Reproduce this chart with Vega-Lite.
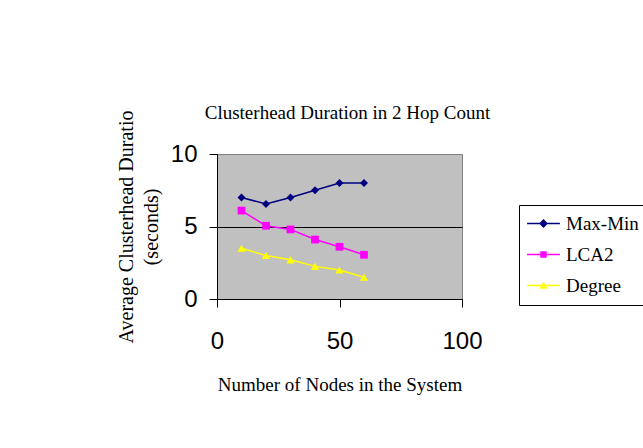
{
  "$schema": "https://vega.github.io/schema/vega-lite/v6.json",
  "width": 245,
  "height": 145,
  "autosize": {"type": "none"},
  "padding": {"left": 217, "top": 154, "right": 181, "bottom": 149},
  "background": "white",
  "title": {
    "text": "Clusterhead Duration in 2 Hop Count",
    "font": "Liberation Serif",
    "fontSize": 19,
    "fontWeight": "normal",
    "color": "black",
    "offset": -13,
    "dx": 8
  },
  "data": {
    "values": [
      {"nodes": 10, "duration": 7.0, "series": "Max-Min"},
      {"nodes": 20, "duration": 6.55, "series": "Max-Min"},
      {"nodes": 30, "duration": 7.0, "series": "Max-Min"},
      {"nodes": 40, "duration": 7.5, "series": "Max-Min"},
      {"nodes": 50, "duration": 8.0, "series": "Max-Min"},
      {"nodes": 60, "duration": 8.0, "series": "Max-Min"},
      {"nodes": 10, "duration": 6.1, "series": "LCA2"},
      {"nodes": 20, "duration": 5.05, "series": "LCA2"},
      {"nodes": 30, "duration": 4.8, "series": "LCA2"},
      {"nodes": 40, "duration": 4.1, "series": "LCA2"},
      {"nodes": 50, "duration": 3.6, "series": "LCA2"},
      {"nodes": 60, "duration": 3.05, "series": "LCA2"},
      {"nodes": 10, "duration": 3.5, "series": "Degree"},
      {"nodes": 20, "duration": 3.0, "series": "Degree"},
      {"nodes": 30, "duration": 2.7, "series": "Degree"},
      {"nodes": 40, "duration": 2.25, "series": "Degree"},
      {"nodes": 50, "duration": 2.0, "series": "Degree"},
      {"nodes": 60, "duration": 1.5, "series": "Degree"}
    ]
  },
  "encoding": {
    "x": {
      "field": "nodes",
      "type": "quantitative",
      "scale": {"domain": [0, 100], "nice": false},
      "axis": {
        "title": "Number of Nodes in the System",
        "values": [0, 50, 100],
        "grid": false,
        "labelFont": "Liberation Sans",
        "labelFontSize": 24,
        "labelColor": "black",
        "labelPadding": 22,
        "labelFlush": false,
        "tickSize": 8,
        "tickColor": "black",
        "domainColor": "black",
        "titleFont": "Liberation Serif",
        "titleFontSize": 19,
        "titleFontWeight": "normal",
        "titleColor": "black",
        "titlePadding": 22
      }
    },
    "y": {
      "field": "duration",
      "type": "quantitative",
      "scale": {"domain": [0, 10], "nice": false},
      "axis": {
        "title": ["Average Clusterhead Duratio", "(seconds)"],
        "values": [0, 5, 10],
        "grid": true,
        "gridColor": {"condition": {"test": "datum.value === 5", "value": "black"}, "value": "#808080"},
        "gridOpacity": 1,
        "labelFont": "Liberation Sans",
        "labelFontSize": 24,
        "labelColor": "black",
        "labelPadding": 12,
        "tickSize": 8,
        "tickColor": "black",
        "domainColor": "black",
        "titleFont": "Liberation Serif",
        "titleFontSize": 20,
        "titleFontWeight": "normal",
        "titleColor": "black",
        "titlePadding": 9,
        "titleLineHeight": 25
      }
    }
  },
  "layer": [
    {
      "transform": [{"filter": "datum.series === 'Max-Min'"}],
      "mark": {"type": "line", "color": "#000080", "strokeWidth": 1.5, "point": {"shape": "diamond", "size": 64, "filled": true, "opacity": 1, "color": "#000080"}}
    },
    {
      "transform": [{"filter": "datum.series === 'LCA2'"}],
      "mark": {"type": "line", "color": "#FF00FF", "strokeWidth": 1.5, "point": {"shape": "square", "size": 60, "filled": true, "opacity": 1, "color": "#FF00FF"}}
    },
    {
      "transform": [{"filter": "datum.series === 'Degree'"}],
      "mark": {"type": "line", "color": "#FFFF00", "strokeWidth": 1.5, "point": {"shape": "triangle-up", "size": 70, "filled": true, "opacity": 1, "color": "#FFFF00"}}
    },
    {
      "mark": {"type": "point", "filled": true, "opacity": 0},
      "encoding": {
        "color": {
          "field": "series",
          "type": "nominal",
          "scale": {"domain": ["Max-Min", "LCA2", "Degree"], "range": ["#000080", "#FF00FF", "#FFFF00"]},
          "legend": {
            "title": null,
            "orient": "none",
            "legendX": 302,
            "legendY": 51,
            "strokeColor": "black",
            "fillColor": "white",
            "padding": 9,
            "cornerRadius": 0,
            "rowPadding": 11,
            "symbolSize": 64,
            "symbolOpacity": 1,
            "symbolStrokeWidth": 0,
            "symbolOffset": 6,
            "labelOffset": 13,
            "labelFont": "Liberation Serif",
            "labelFontSize": 19,
            "labelColor": "black"
          }
        },
        "shape": {
          "field": "series",
          "type": "nominal",
          "scale": {
            "domain": ["Max-Min", "LCA2", "Degree"],
            "range": [
              "M-4.1,-0.19L4.1,-0.19L4.1,0.19L-4.1,0.19ZM0,-1.1L1.1,0L0,1.1L-1.1,0Z",
              "M-4.1,-0.19L4.1,-0.19L4.1,0.19L-4.1,0.19ZM-0.8,-0.8L0.8,-0.8L0.8,0.8L-0.8,0.8Z",
              "M-4.1,-0.19L4.1,-0.19L4.1,0.19L-4.1,0.19ZM0,-0.95L1.05,0.8L-1.05,0.8Z"
            ]
          },
          "legend": {
            "title": null,
            "orient": "none",
            "legendX": 302,
            "legendY": 51,
            "strokeColor": "black",
            "fillColor": "white",
            "padding": 9,
            "cornerRadius": 0,
            "rowPadding": 11,
            "symbolSize": 64,
            "symbolOpacity": 1,
            "symbolStrokeWidth": 0,
            "symbolOffset": 6,
            "labelOffset": 13,
            "labelFont": "Liberation Serif",
            "labelFontSize": 19,
            "labelColor": "black"
          }
        }
      }
    }
  ],
  "config": {
    "view": {"fill": "#C0C0C0", "stroke": "#808080"}
  }
}
